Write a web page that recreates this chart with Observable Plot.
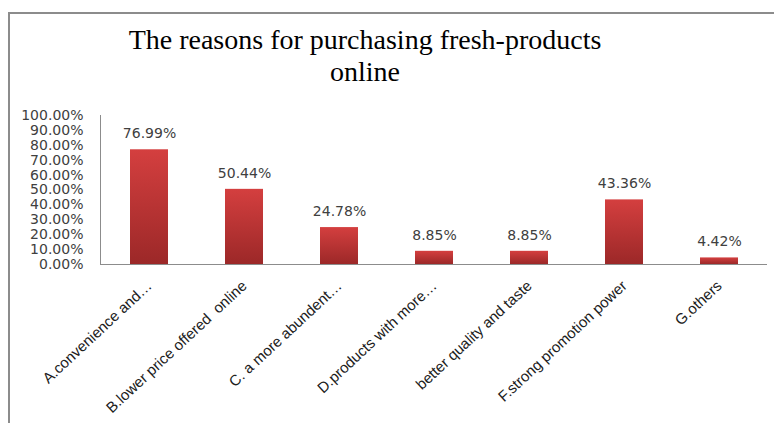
<!DOCTYPE html>
<html>
<head>
<meta charset="utf-8">
<script src="https://cdn.jsdelivr.net/npm/d3@7"></script>
<script src="https://cdn.jsdelivr.net/npm/@observablehq/plot@0.6"></script>
<style>
  html, body { margin: 0; padding: 0; background: #fff; }
  #wrap { position: relative; width: 774px; height: 423px; overflow: hidden; }
  #border { position: absolute; left: 8px; top: 12px; width: 780px; height: 430px;
            border-top: 2px solid #8c8c8c; border-left: 2px solid #8c8c8c; box-sizing: border-box; }
  #title { position: absolute; left: 0; width: 730px; top: 24px; text-align: center;
           font-family: "Liberation Serif", serif; font-size: 28px; line-height: 32px; color: #000; }
  #chart { position: absolute; left: 0; top: 0; }
</style>
</head>
<body>
<div id="wrap">
  <div id="border"></div>
  <div id="title">The reasons for purchasing fresh-products<br>online</div>
  <div id="chart"></div>
</div>
<script>
const categories = [
  "A.convenience and…",
  "B.lower price offered  online",
  "C. a more abundent…",
  "D.products with more…",
  "better quality and taste",
  "F.strong promotion power",
  "G.others"
];
const values = [0.7699, 0.5044, 0.2478, 0.0885, 0.0885, 0.4336, 0.0442];
const yTicks = [0, 0.1, 0.2, 0.3, 0.4, 0.5, 0.6, 0.7, 0.8, 0.9, 1.0];

const data = categories.map((c, i) => ({category: c, value: values[i]}));
const pct = v => (v * 100).toFixed(2) + "%";

const defs = () => {
  const g = d3.create("svg:defs");
  const lg = g.append("linearGradient").attr("id", "barGrad")
    .attr("x1", 0).attr("y1", 0).attr("x2", 0).attr("y2", 1);
  lg.append("stop").attr("offset", "0%").attr("stop-color", "#d43f3f");
  lg.append("stop").attr("offset", "100%").attr("stop-color", "#9c2828");
  return g.node();
};

const chart = Plot.plot({
  width: 774,
  height: 423,
  marginLeft: 100,
  marginRight: 7,
  marginTop: 115,
  marginBottom: 159,
  style: {background: "transparent", overflow: "visible"},
  x: {domain: categories, paddingInner: 0.6, paddingOuter: 0.3, label: null},
  y: {domain: [0, 1], label: null},
  marks: [
    defs,
    Plot.frame({anchor: "left", stroke: "#8c8c8c", strokeWidth: 1}),
    Plot.barY(data, {x: "category", y: "value", fill: "url(#barGrad)"}),
    Plot.ruleY([0], {stroke: "#8c8c8c", strokeWidth: 1}),
    Plot.text(data, {x: "category", y: "value", text: d => pct(d.value), dy: -16,
      fill: "#404040", fontFamily: "DejaVu Sans", fontSize: 14, lineAnchor: "middle"}),
    Plot.axisY({ticks: yTicks, tickFormat: pct, tickSize: 0, tickPadding: 17,
      fontFamily: "DejaVu Sans", fontSize: 14, fill: "#404040", label: null}),
    Plot.axisX({tickSize: 0, tickPadding: 19, tickRotate: -43,
      fontFamily: "Liberation Sans", fontSize: 15, fill: "#202020", label: null})
  ]
});
document.getElementById("chart").appendChild(chart);
</script>
</body>
</html>
